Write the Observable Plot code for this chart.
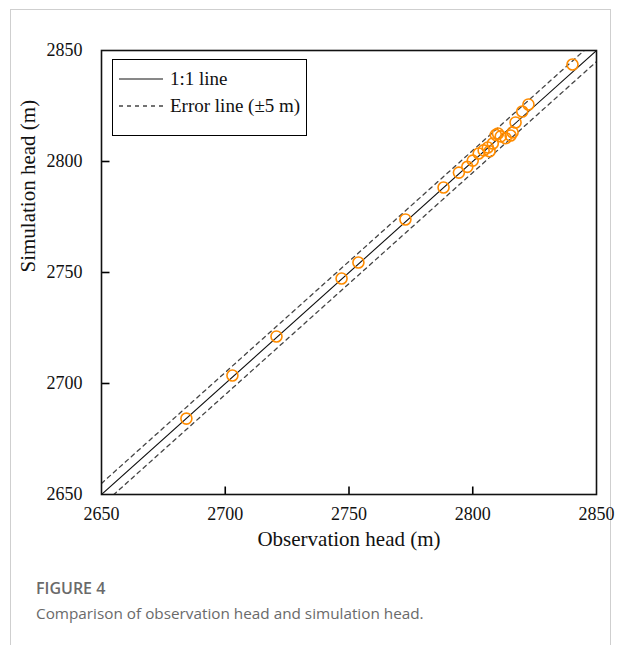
<!DOCTYPE html>
<html>
<head>
<meta charset="utf-8">
<script src="https://cdn.jsdelivr.net/npm/d3@7"></script>
<script src="https://cdn.jsdelivr.net/npm/@observablehq/plot@0.6"></script>
<style>
  html, body { margin: 0; padding: 0; background: #fff; }
  #wrap { position: relative; width: 625px; height: 645px; overflow: hidden; }
  #card { position: absolute; left: 10px; top: 9px; width: 601px; height: 660px; border: 1px solid #cfcfcf; box-sizing: border-box; }
  #chart { position: absolute; left: 0; top: 0; }
  #legend { position: absolute; left: 112px; top: 59px; width: 195px; height: 77px; border: 1.5px solid #000; box-sizing: border-box; background: #fff;
            font-family: "Liberation Serif", "Times New Roman", serif; font-size: 19px; color: #111; }
  .lrow { position: absolute; left: 6px; display: flex; align-items: center; }
  .lrow svg { margin-right: 7px; }
  #fig { position: absolute; left: 36px; top: 577px; font-family: "Open Sans", sans-serif; font-size: 16px; font-weight: 600; color: #6a6a6a; }
  #cap { position: absolute; left: 36px; top: 603px; font-family: "Open Sans", sans-serif; font-size: 15.3px; color: #6a6a6a; }
</style>
</head>
<body>
<div id="wrap">
  <div id="card"></div>
  <div id="chart"></div>
  <div id="legend">
    <div class="lrow" style="top:8px"><svg width="44" height="4"><line x1="0" y1="2" x2="44" y2="2" stroke="#111" stroke-width="1"/></svg><span>1:1 line</span></div>
    <div class="lrow" style="top:35px"><svg width="44" height="4"><line x1="0" y1="2" x2="44" y2="2" stroke="#444" stroke-width="1.3" stroke-dasharray="4,4"/></svg><span>Error line (±5 m)</span></div>
  </div>
  <div id="fig">FIGURE 4</div>
  <div id="cap">Comparison of observation head and simulation head.</div>
</div>
<script>
// Data
const observation = [2684.3, 2702.9, 2720.7, 2747.0, 2753.8, 2772.8, 2788.2, 2794.4, 2797.8, 2800.0, 2802.4, 2804.4, 2806.1, 2808.1, 2806.8, 2809.3, 2810.2, 2811.3, 2813.3, 2815.3, 2816.1, 2817.3, 2820.0, 2822.5, 2840.3];
const simulation  = [2684.2, 2703.6, 2721.2, 2747.3, 2754.5, 2773.9, 2788.3, 2795.0, 2797.6, 2800.4, 2803.6, 2805.0, 2806.3, 2808.1, 2804.6, 2812.0, 2812.6, 2811.3, 2810.5, 2811.7, 2813.1, 2817.6, 2822.5, 2825.7, 2843.7];
const axisDomain = [2650, 2850];
const tickValues = [2650, 2700, 2750, 2800, 2850];
const innerTicks = [2700, 2750, 2800];
const errorMargin = 5;

const points = observation.map((o, i) => ({obs: o, sim: simulation[i]}));
const oneToOne = axisDomain.map(v => ({x: v, y: v}));
const upper = axisDomain.map(v => ({x: v, y: v + errorMargin}));
const lower = axisDomain.map(v => ({x: v, y: v - errorMargin}));
const xTicks = innerTicks.map(v => ({v}));
const yTicks = innerTicks.map(v => ({v}));

const font = '"Liberation Serif", "Times New Roman", serif';
const W = 625, H = 560, ML = 101, MR = 29, MT = 50, MB = 66;
const tickPx = 8;
const span = axisDomain[1] - axisDomain[0];
const tickLenY = tickPx * span / (H - MT - MB);
const tickLenX = tickPx * span / (W - ML - MR);

const chart = Plot.plot({
  width: W,
  height: H,
  marginLeft: ML,
  marginRight: MR,
  marginTop: MT,
  marginBottom: MB,
  style: {fontFamily: font, fontSize: "18px", color: "#111", background: "transparent", overflow: "visible"},
  x: {domain: axisDomain, axis: null},
  y: {domain: axisDomain, axis: null},
  marks: [
    Plot.line(upper, {x: "x", y: "y", stroke: "#444", strokeWidth: 1.3, strokeDasharray: "4,4", clip: true}),
    Plot.line(lower, {x: "x", y: "y", stroke: "#444", strokeWidth: 1.3, strokeDasharray: "4,4", clip: true}),
    Plot.line(oneToOne, {x: "x", y: "y", stroke: "#111", strokeWidth: 1.1, clip: true}),
    Plot.dot(points, {x: "obs", y: "sim", r: 5.5, stroke: "#FF8C00", strokeWidth: 1.6, fill: "none"}),
    Plot.link(xTicks, {x1: "v", x2: "v", y1: () => axisDomain[0], y2: () => axisDomain[0] + tickLenY, stroke: "#000", strokeWidth: 1.6}),
    Plot.link(yTicks, {y1: "v", y2: "v", x1: () => axisDomain[0], x2: () => axisDomain[0] + tickLenX, stroke: "#000", strokeWidth: 1.6}),
    Plot.text(tickValues, {x: d => d, frameAnchor: "bottom", dy: 25, text: d => String(d), fontSize: 18, fontFamily: font, fill: "#111"}),
    Plot.text(tickValues, {y: d => d, frameAnchor: "left", dx: -19, textAnchor: "end", text: d => String(d), fontSize: 18, fontFamily: font, fill: "#111"}),
    Plot.frame({stroke: "#111", strokeWidth: 1.6}),
    Plot.text(["Observation head (m)"], {frameAnchor: "bottom", dy: 51, fontSize: 21, fontFamily: font, fill: "#111"}),
    Plot.text(["Simulation head (m)"], {frameAnchor: "left", dx: -73, rotate: -90, fontSize: 21, fontFamily: font, fill: "#111"})
  ]
});
document.getElementById("chart").appendChild(chart);
</script>
</body>
</html>
